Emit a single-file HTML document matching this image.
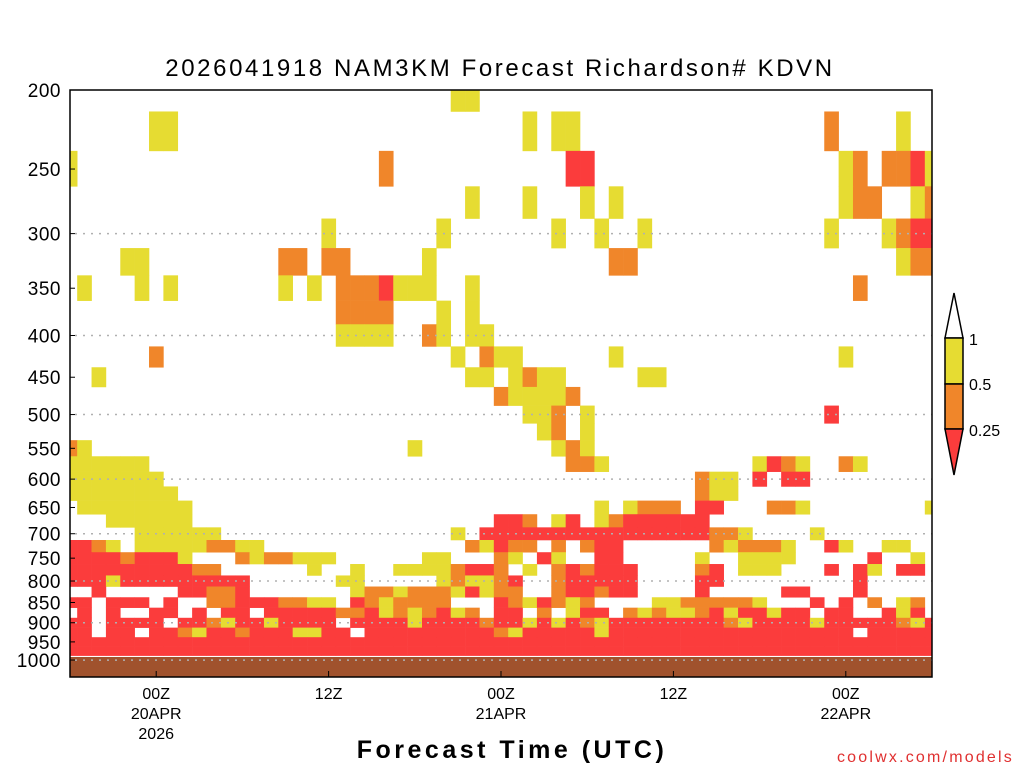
<!DOCTYPE html>
<html><head><meta charset="utf-8"><style>
html,body{margin:0;padding:0;background:#fff;}
body{width:1024px;height:768px;overflow:hidden;}
svg text{font-family:"Liberation Sans",sans-serif;}
</style></head><body>
<svg id="chart" width="1024" height="768" viewBox="0 0 1024 768" xmlns="http://www.w3.org/2000/svg">
<text x="500" y="76" text-anchor="middle" font-size="24" letter-spacing="2.6" fill="#000">2026041918 NAM3KM Forecast Richardson# KDVN</text>
<g id="cells"></g>
<rect x="70" y="657" width="862" height="20" fill="#a0522d"/>
<g id="grid"></g>
<rect x="70" y="90" width="862" height="587" fill="none" stroke="#000" stroke-width="1.5"/>
<g id="yaxis"></g>
<g id="xaxis"></g>
<text x="512" y="758" text-anchor="middle" font-size="25" font-weight="bold" letter-spacing="3.5" fill="#000">Forecast Time (UTC)</text>
<text x="1014" y="762" text-anchor="end" font-size="16" letter-spacing="2.2" fill="#e03030">coolwx.com/models</text>
<g stroke="#000" stroke-width="1.5">
<polygon points="945,338 954,293 963,338" fill="#fff"/>
<rect x="945" y="338" width="18" height="46" fill="#e6dc32"/>
<rect x="945" y="384" width="18" height="45" fill="#f0862a"/>
<polygon points="945,429 954,475 963,429" fill="#fb3c3c"/>
</g>
<g font-size="16" fill="#000">
<text x="969" y="345">1</text>
<text x="969" y="390">0.5</text>
<text x="969" y="436">0.25</text>
</g>
</svg>
<script>
const levels=[200,225,250,275,300,325,350,375,400,425,450,475,500,525,550,575,600,625,650,675,700,725,750,775,800,825,850,875,900,925,950,975];
const hours=[];for(let h=0;h<=60;h++)hours.push(h);
const rowData=[
"..........|..........|.......yy.|..........|..........|..........|.",
"......yy..|..........|..........|..y.yy....|..........|...o....y.|.",
"y.........|..........|..o.......|.....rr...|..........|....yo.oor|y",
"..........|..........|........y.|..y...y.y.|..........|....yoo..y|o",
"..........|........y.|......y...|....y..y..|y.........|...y...yor|r",
"....yy....|.....oo.oo|.....y....|........oo|..........|........yo|o",
".y...y.y..|.....y.y.o|ooryyy..y.|..........|..........|.....o....|.",
"..........|.........o|ooo...y.y.|..........|..........|..........|.",
"..........|.........y|yyy..oy.yy|..........|..........|..........|.",
"......o...|..........|.......y.o|yy......y.|..........|....y.....|.",
"..y.......|..........|........yy|.yoyy.....|yy........|..........|.",
"..........|..........|..........|oyyyyo....|..........|..........|.",
"..........|..........|..........|..yyo.y...|..........|...r......|.",
"..........|..........|..........|...yo.y...|..........|..........|.",
"oy........|..........|....y.....|....yoy...|..........|..........|.",
"yyyyyy....|..........|..........|.....ooy..|........yr|oy..oy....|.",
"yyyyyyy...|..........|..........|..........|....oyy.r.|rr........|.",
"yyyyyyyy..|..........|..........|..........|....oyy...|..........|.",
".yyyyyyyy.|..........|..........|.......y.y|ooo.rr...o|oy........|y",
"...yyyyyy.|..........|..........|rro.yr.yor|rrrrr.....|..........|.",
".....yyyyy|y.........|.......y.r|rrrrrrrrrr|rrrrrooy..|..y.......|.",
"rroy.yyyyy|ooyy......|........oy|roo.o.orr.|.....oyooo|y..ry..yy.|.",
"rrrrorrry.|..oyooyyy.|.....yy...|oy.ry..rr.|....y..yyy|y.....r..y|.",
"rrrrrrrrro|o......y..|y..yyyyorr|o.y.ororrr|....or.yyy|...r.ry.rr|.",
"rrryrrrrrr|rrr......y|y.....yoyy|or..orrrrr|....rr....|.....r....|.",
"..r.....rr|oor.......|yooyoooyry|oo..orrorr|....r.....|rr...r....|.",
"rr.rrr.r..|oorrrooyy.|royoooo...|royroyo...|.yyoooooy.|..r.r.o.yo|.",
".r.r..rr.r|.rr.rrrrro|oryoyoryo.|rr.o.yrr.o|yoyyoryrry|rr.rr..ryr|.",
"rr.rrrr.rr|oyrryrrrr.|rrrryrrrro|rryryroyrr|rrrrrroyrr|rryrrrrroy|r",
"rr.rr.rroy|rrorrryyrr|.rrrrrrrrr|oyrrrrryrr|rrrrrrrrrr|rrrrr.rrrr|r",
"rrrrrrrrrr|rrrrrrrrrr|rrrrrrrrrr|rrrrrrrrrr|rrrrrrrrrr|rrrrrrrrrr|r",
"rrrrrrrrrr|rrrrrrrrrr|rrrrrrrrrr|rrrrrrrrrr|rrrrrrrrrr|rrrrrrrrrr|r"
];
const yTicks=[200,250,300,350,400,450,500,550,600,650,700,750,800,850,900,950,1000];
const gridLevels=[300,400,500,600,700,800,900,1000];
const xTickHours=[6,18,30,42,54];
const xTickLabels=[["00Z","20APR","2026"],["12Z"],["00Z","21APR"],["12Z"],["00Z","22APR"]];

const NS="http://www.w3.org/2000/svg";
const X0=70,X1=932,Y0=90,Y1=677;
const xs=h=>X0+(X1-X0)*h/60;
const ys=p=>Y0+354.2*Math.log(p/200);
const colors={r:"#fb3c3c",o:"#f0862a",y:"#e6dc32"};
const cells=document.getElementById("cells");
levels.forEach((lev,i)=>{
  const s=rowData[i].replace(/\|/g,"");
  const top=Math.max(Y0,ys(lev-12.5)),bot=Math.min(Y1,ys(lev+12.5));
  hours.forEach((h,j)=>{
    const c=s[j];if(!colors[c])return;
    const l=Math.max(X0,xs(h-0.5)),r=Math.min(X1,xs(h+0.5));
    const rc=document.createElementNS(NS,"rect");
    
    
    rc.setAttribute("x",l);rc.setAttribute("y",top);
    rc.setAttribute("width",r-l+0.3);rc.setAttribute("height",bot-top+0.3);
    rc.setAttribute("fill",colors[c]);
    cells.appendChild(rc);
  });
});
const grid=document.getElementById("grid");
gridLevels.forEach(p=>{
  const ln=document.createElementNS(NS,"line");
  
  
  ln.setAttribute("x1",X0+5);ln.setAttribute("x2",X1);
  ln.setAttribute("y1",ys(p));ln.setAttribute("y2",ys(p));
  ln.setAttribute("stroke","#b0b0b0");ln.setAttribute("stroke-width","1.5");
  ln.setAttribute("stroke-dasharray","2,6");
  grid.appendChild(ln);
});
const ya=document.getElementById("yaxis");
yTicks.forEach(p=>{
  const t=document.createElementNS(NS,"text");
  
  
  t.setAttribute("x",61);t.setAttribute("y",ys(p)+7);
  t.setAttribute("text-anchor","end");t.setAttribute("font-size","19");
  t.setAttribute("letter-spacing","0.5");
  t.textContent=p;ya.appendChild(t);
  const tk=document.createElementNS(NS,"line");
  
  
  tk.setAttribute("x1",X0);tk.setAttribute("x2",X0+5);
  tk.setAttribute("y1",ys(p));tk.setAttribute("y2",ys(p));
  tk.setAttribute("stroke","#000");ya.appendChild(tk);
});
const xa=document.getElementById("xaxis");
xTickHours.forEach((h,i)=>{
  const tk=document.createElementNS(NS,"line");
  
  
  tk.setAttribute("x1",xs(h));tk.setAttribute("x2",xs(h));
  tk.setAttribute("y1",Y1);tk.setAttribute("y2",Y1-6);
  tk.setAttribute("stroke","#000");xa.appendChild(tk);
  xTickLabels[i].forEach((lab,k)=>{
    const t=document.createElementNS(NS,"text");
    
    
    t.setAttribute("x",xs(h));t.setAttribute("y",699+k*20);
    t.setAttribute("text-anchor","middle");t.setAttribute("font-size","16");
    t.textContent=lab;xa.appendChild(t);
  });
});
</script>
</body></html>
